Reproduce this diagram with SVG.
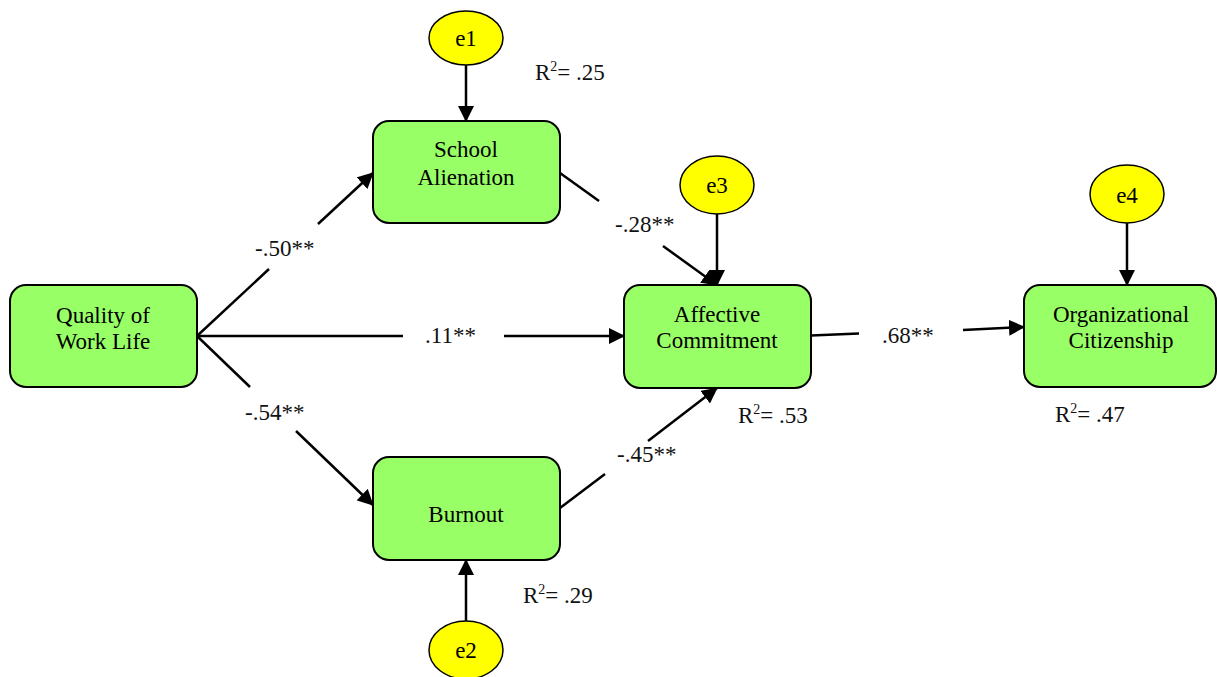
<svg xmlns="http://www.w3.org/2000/svg" width="1217" height="677" viewBox="0 0 1217 677">
<style>
.box{fill:#99ff66;stroke:#000;stroke-width:2}
.err{fill:#ffff00;stroke:#000;stroke-width:1.5}
.t{font-family:"Liberation Serif","Times New Roman",serif;font-size:23px;fill:#000;text-anchor:middle}
.l{font-family:"Liberation Serif","Times New Roman",serif;font-size:23px;fill:#111}
.c{stroke:#000;stroke-width:2.5;fill:none}
.sup{font-size:14px}
</style>
<defs>
<marker id="ah" markerUnits="userSpaceOnUse" markerWidth="16" markerHeight="16" viewBox="0 0 16 16" refX="15" refY="8" orient="auto">
<path d="M0,0 L16,8 L0,16 z" fill="#000"/>
</marker>
</defs>
<g id="connectors">
<line class="c" x1="197" y1="336" x2="269" y2="269"/>
<line class="c" x1="318" y1="224" x2="373" y2="173" marker-end="url(#ah)"/>
<line class="c" x1="197" y1="336" x2="250" y2="387"/>
<line class="c" x1="296" y1="431" x2="373" y2="505" marker-end="url(#ah)"/>
<line class="c" x1="197" y1="336" x2="403" y2="336"/>
<line class="c" x1="504" y1="336" x2="624" y2="336" marker-end="url(#ah)"/>
<line class="c" x1="560" y1="173" x2="599" y2="201"/>
<line class="c" x1="663" y1="246" x2="717" y2="285" marker-end="url(#ah)"/>
<line class="c" x1="560" y1="508" x2="605" y2="474"/>
<line class="c" x1="648" y1="441" x2="717" y2="388" marker-end="url(#ah)"/>
<line class="c" x1="811" y1="335.5" x2="859" y2="333.5"/>
<line class="c" x1="963" y1="330" x2="1024" y2="327" marker-end="url(#ah)"/>
<line class="c" x1="466" y1="65" x2="466" y2="121" marker-end="url(#ah)"/>
<line class="c" x1="717" y1="214" x2="717" y2="285" marker-end="url(#ah)"/>
<line class="c" x1="1127" y1="223" x2="1127" y2="285" marker-end="url(#ah)"/>
<line class="c" x1="466" y1="621" x2="466" y2="560" marker-end="url(#ah)"/>
<text class="l" x="255" y="256">-.50**</text>
<text class="l" x="245" y="420">-.54**</text>
<text class="l" x="425" y="343">.11**</text>
<text class="l" x="615" y="232">-.28**</text>
<text class="l" x="617" y="462">-.45**</text>
<text class="l" x="882" y="343">.68**</text>
</g>
<g id="qwl">
<rect class="box" x="10" y="285" width="187" height="102" rx="16"/>
<text class="t" x="103" y="323">Quality of</text>
<text class="t" x="103" y="349">Work Life</text>
</g>
<g id="sa">
<rect class="box" x="373" y="121" width="187" height="102" rx="16"/>
<text class="t" x="466" y="157">School</text>
<text class="t" x="466" y="185">Alienation</text>
</g>
<g id="bo">
<rect class="box" x="373" y="457" width="187" height="103" rx="16"/>
<text class="t" x="466" y="522">Burnout</text>
</g>
<g id="ac">
<rect class="box" x="624" y="285" width="187" height="103" rx="16"/>
<text class="t" x="717" y="322">Affective</text>
<text class="t" x="717" y="348">Commitment</text>
</g>
<g id="oc">
<rect class="box" x="1024" y="285" width="192" height="102" rx="16"/>
<text class="t" x="1121" y="322">Organizational</text>
<text class="t" x="1121" y="348">Citizenship</text>
</g>
<g id="e1">
<ellipse class="err" cx="466" cy="38" rx="37" ry="27"/>
<text class="t" x="466" y="46">e1</text>
</g>
<g id="e3">
<ellipse class="err" cx="717" cy="185" rx="37" ry="29"/>
<text class="t" x="717" y="193">e3</text>
</g>
<g id="e4">
<ellipse class="err" cx="1127" cy="194" rx="37" ry="29"/>
<text class="t" x="1127" y="203">e4</text>
</g>
<g id="e2">
<ellipse class="err" cx="466" cy="650" rx="37" ry="29"/>
<text class="t" x="466" y="658">e2</text>
</g>
<g id="r2">
<text class="l" x="535" y="80">R<tspan class="sup" dy="-9">2</tspan><tspan dy="9">= .25</tspan></text>
<text class="l" x="738" y="423">R<tspan class="sup" dy="-9">2</tspan><tspan dy="9">= .53</tspan></text>
<text class="l" x="1055" y="422">R<tspan class="sup" dy="-9">2</tspan><tspan dy="9">= .47</tspan></text>
<text class="l" x="523" y="603">R<tspan class="sup" dy="-9">2</tspan><tspan dy="9">= .29</tspan></text>
</g>
</svg>
